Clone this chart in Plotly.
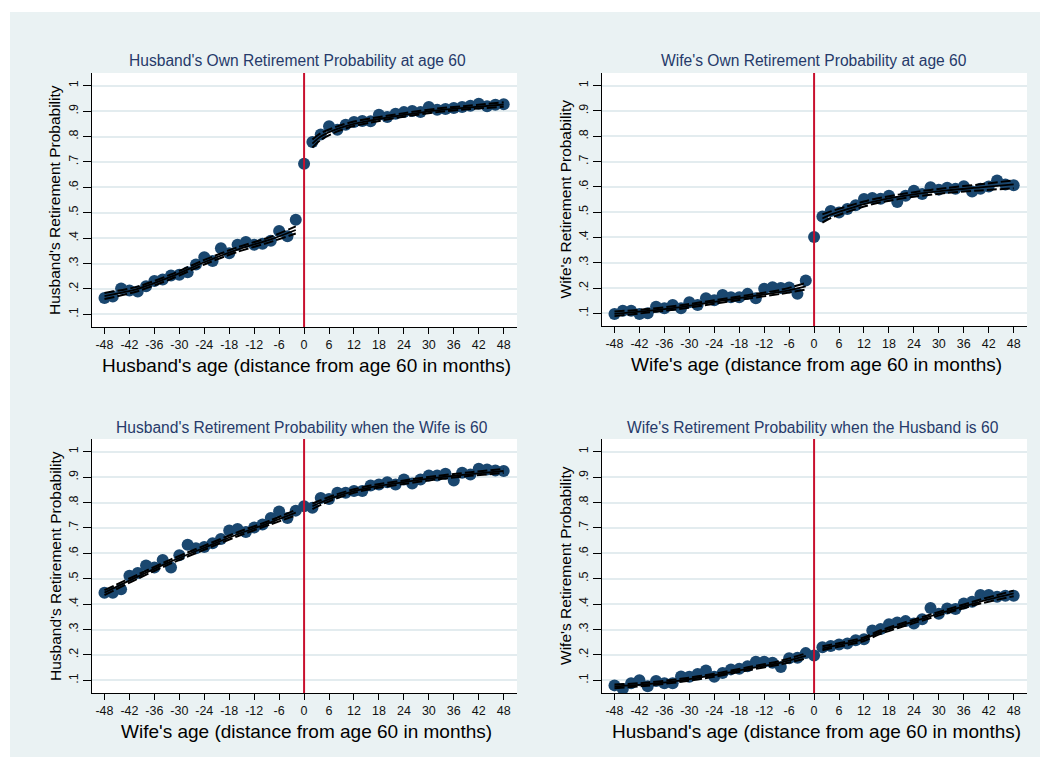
import plotly.graph_objects as go

# ---------------- data ----------------
months = list(range(-48, 49, 2))
x_ticks = [-48, -42, -36, -30, -24, -18, -12, -6, 0, 6, 12, 18, 24, 30, 36, 42, 48]
x_ticklabels = [str(v) for v in x_ticks]
y_ticks = [0.1, 0.2, 0.3, 0.4, 0.5, 0.6, 0.7, 0.8, 0.9, 1.0]
y_ticklabels = [".1", ".2", ".3", ".4", ".5", ".6", ".7", ".8", ".9", "1"]

titles = [
    "Husband's Own Retirement Probability at age 60",
    "Wife's Own Retirement Probability at age 60",
    "Husband's Retirement Probability when the Wife is 60",
    "Wife's Retirement Probability when the Husband is 60",
]
x_titles = [
    "Husband's age (distance from age 60 in months)",
    "Wife's age (distance from age 60 in months)",
    "Wife's age (distance from age 60 in months)",
    "Husband's age (distance from age 60 in months)",
]
y_titles = [
    "Husband's Retirement Probability",
    "Wife's Retirement Probability",
    "Husband's Retirement Probability",
    "Wife's Retirement Probability",
]

husband_own = [0.164, 0.170, 0.202, 0.194, 0.190, 0.210, 0.231, 0.237, 0.253, 0.256,
               0.266, 0.296, 0.325, 0.310, 0.360, 0.340, 0.374, 0.385, 0.374, 0.378,
               0.390, 0.428, 0.407, 0.472, 0.693, 0.778, 0.808, 0.840, 0.827, 0.846,
               0.857, 0.861, 0.860, 0.886, 0.877, 0.890, 0.896, 0.900, 0.896, 0.916,
               0.905, 0.908, 0.912, 0.916, 0.921, 0.929, 0.919, 0.925, 0.927]
wife_own = [0.097, 0.110, 0.110, 0.097, 0.100, 0.126, 0.120, 0.133, 0.120, 0.144,
            0.133, 0.160, 0.152, 0.173, 0.164, 0.164, 0.177, 0.160, 0.197, 0.203,
            0.200, 0.202, 0.177, 0.230, 0.402, 0.483, 0.505, 0.499, 0.512, 0.527,
            0.552, 0.556, 0.553, 0.565, 0.540, 0.565, 0.585, 0.572, 0.598, 0.589,
            0.596, 0.592, 0.602, 0.582, 0.592, 0.601, 0.625, 0.609, 0.606]
husband_wife60 = [0.445, 0.445, 0.458, 0.512, 0.522, 0.552, 0.544, 0.574, 0.544, 0.592,
                  0.634, 0.620, 0.625, 0.640, 0.656, 0.690, 0.696, 0.684, 0.702, 0.713,
                  0.739, 0.765, 0.739, 0.768, 0.785, 0.779, 0.818, 0.814, 0.838, 0.838,
                  0.845, 0.845, 0.867, 0.871, 0.880, 0.871, 0.891, 0.875, 0.891, 0.906,
                  0.906, 0.913, 0.887, 0.917, 0.910, 0.933, 0.930, 0.926, 0.924]
wife_husband60 = [0.080, 0.066, 0.088, 0.100, 0.077, 0.097, 0.088, 0.088, 0.115, 0.114,
                  0.125, 0.139, 0.114, 0.129, 0.143, 0.145, 0.155, 0.173, 0.173, 0.169,
                  0.152, 0.187, 0.189, 0.207, 0.198, 0.230, 0.235, 0.241, 0.245, 0.258,
                  0.262, 0.296, 0.302, 0.321, 0.328, 0.333, 0.324, 0.340, 0.385, 0.362,
                  0.383, 0.381, 0.402, 0.409, 0.436, 0.436, 0.429, 0.433, 0.433]

# fitted lines with confidence bands
fit_x_left = [-48, -40, -32, -24, -16, -8, -2]
fit_x_right = [2, 4, 8, 12, 16, 24, 32, 40, 48]

p1_fit_l = [0.172, 0.200, 0.248, 0.305, 0.355, 0.395, 0.432]
p1_lo_l = [0.160, 0.191, 0.239, 0.296, 0.346, 0.385, 0.418]
p1_hi_l = [0.184, 0.209, 0.257, 0.314, 0.364, 0.405, 0.446]
p1_fit_r = [0.772, 0.800, 0.830, 0.850, 0.863, 0.885, 0.903, 0.915, 0.926]
p1_lo_r = [0.756, 0.787, 0.820, 0.841, 0.855, 0.878, 0.896, 0.908, 0.917]
p1_hi_r = [0.788, 0.813, 0.840, 0.859, 0.871, 0.892, 0.910, 0.922, 0.935]

p2_fit_l = [0.098, 0.110, 0.125, 0.145, 0.165, 0.185, 0.207]
p2_lo_l = [0.089, 0.103, 0.118, 0.138, 0.158, 0.177, 0.194]
p2_hi_l = [0.107, 0.117, 0.132, 0.152, 0.172, 0.193, 0.220]
p2_fit_r = [0.475, 0.490, 0.512, 0.532, 0.548, 0.570, 0.586, 0.598, 0.610]
p2_lo_r = [0.459, 0.477, 0.501, 0.522, 0.539, 0.561, 0.576, 0.586, 0.594]
p2_hi_r = [0.491, 0.503, 0.523, 0.542, 0.557, 0.579, 0.596, 0.610, 0.626]

p3_fit_l = [0.445, 0.508, 0.568, 0.622, 0.675, 0.722, 0.760]
p3_lo_l = [0.435, 0.500, 0.560, 0.614, 0.667, 0.714, 0.749]
p3_hi_l = [0.455, 0.516, 0.576, 0.630, 0.683, 0.730, 0.771]
p3_fit_r = [0.785, 0.800, 0.825, 0.845, 0.860, 0.880, 0.898, 0.912, 0.924]
p3_lo_r = [0.774, 0.791, 0.817, 0.838, 0.853, 0.873, 0.891, 0.905, 0.916]
p3_hi_r = [0.796, 0.809, 0.833, 0.852, 0.867, 0.887, 0.905, 0.919, 0.932]

p4_fit_l = [0.076, 0.085, 0.100, 0.120, 0.145, 0.170, 0.196]
p4_lo_l = [0.069, 0.079, 0.094, 0.114, 0.139, 0.163, 0.186]
p4_hi_l = [0.083, 0.091, 0.106, 0.126, 0.151, 0.177, 0.206]
p4_fit_r = [0.226, 0.233, 0.246, 0.262, 0.290, 0.332, 0.372, 0.410, 0.442]
p4_lo_r = [0.218, 0.226, 0.239, 0.255, 0.283, 0.325, 0.365, 0.402, 0.431]
p4_hi_r = [0.234, 0.240, 0.253, 0.269, 0.297, 0.339, 0.379, 0.418, 0.453]

# ---------------- styling ----------------
OFF = 8                     # the page body adds an 8px margin
W, H = 1052 - OFF, 771 - OFF
BG = "#EAF2F3"
GRID = "#E3ECEF"
MARKER = "#1A476F"
RED = "#C8102E"
TITLE_C = "#263A6A"
FONT = "Liberation Sans, Arial, sans-serif"

def px(x):
    return (x - OFF) / W

def py(y):
    return 1 - (y - OFF) / H

# plot areas in target pixels: (left, right, top, bottom)
areas = [
    (92, 517, 73, 327),
    (602, 1027, 73, 326),
    (92, 517, 439, 693),
    (602, 1027, 439, 693),
]
title_pos = [(297, 60), (814, 60), (302, 427), (813, 427)]

panels = [
    (husband_own, p1_fit_l, p1_lo_l, p1_hi_l, p1_fit_r, p1_lo_r, p1_hi_r),
    (wife_own, p2_fit_l, p2_lo_l, p2_hi_l, p2_fit_r, p2_lo_r, p2_hi_r),
    (husband_wife60, p3_fit_l, p3_lo_l, p3_hi_l, p3_fit_r, p3_lo_r, p3_hi_r),
    (wife_husband60, p4_fit_l, p4_lo_l, p4_hi_l, p4_fit_r, p4_lo_r, p4_hi_r),
]

fig = go.Figure()
annotations = []
shapes = []

for i, (pts, fl, ll, hl, fr, lr, hr) in enumerate(panels):
    n = i + 1
    xa = "x" if n == 1 else f"x{n}"
    ya = "y" if n == 1 else f"y{n}"
    fig.add_trace(go.Scatter(
        x=months, y=pts, xaxis=xa, yaxis=ya, mode="markers",
        marker=dict(color=MARKER, size=12, line=dict(width=0)),
        showlegend=False, hoverinfo="skip"))
    for xs, lo, fit, hi in ((fit_x_left, ll, fl, hl), (fit_x_right, lr, fr, hr)):
        for ys, dash, wd in ((lo, "10px,3px", 2.0), (hi, "10px,3px", 2.0), (fit, "solid", 1.8)):
            fig.add_trace(go.Scatter(
                x=xs, y=ys, xaxis=xa, yaxis=ya, mode="lines",
                line=dict(color="black", width=wd, dash=dash, shape="spline", smoothing=0.8),
                showlegend=False, hoverinfo="skip"))
    # red vertical line at 0
    fig.add_trace(go.Scatter(
        x=[0, 0], y=[0.05, 1.05], xaxis=xa, yaxis=ya, mode="lines",
        line=dict(color=RED, width=2), showlegend=False, hoverinfo="skip"))

    l, r, t, b = areas[i]
    axis_common = dict(showline=True, linecolor="black", linewidth=1.3,
                       ticks="outside", tickcolor="black", tickwidth=1.2,
                       zeroline=False, mirror=False)
    fig.update_layout({
        ("xaxis" if n == 1 else f"xaxis{n}"): dict(
            domain=[px(l), px(r)], anchor=ya, range=[-51.0, 51.2],
            tickmode="array", tickvals=x_ticks, ticktext=x_ticklabels,
            ticklen=6, showgrid=False,
            tickfont=dict(family=FONT, size=12.5, color="#111111"), **axis_common),
        ("yaxis" if n == 1 else f"yaxis{n}"): dict(
            domain=[py(b), py(t)], anchor=xa, range=[0.05, 1.05],
            tickmode="array", tickvals=y_ticks, ticktext=y_ticklabels,
            ticklen=8, tickangle=-90, showgrid=True, gridcolor=GRID, gridwidth=2,
            tickfont=dict(family=FONT, size=12.5, color="#111111"), **axis_common),
    })
    # white plot area
    shapes.append(dict(type="rect", xref="paper", yref="paper",
                       x0=px(l), x1=px(r), y0=py(b), y1=py(t),
                       fillcolor="white", line=dict(width=0), layer="below"))
    # titles
    tx, ty = title_pos[i]
    annotations.append(dict(text=titles[i], x=px(tx), y=py(ty), xref="paper", yref="paper",
                            showarrow=False, xanchor="center", yanchor="middle",
                            font=dict(family=FONT, size=15.6, color=TITLE_C)))
    annotations.append(dict(text=x_titles[i], x=px((l + r) / 2 + 2), y=py(b + 38),
                            xref="paper", yref="paper", showarrow=False,
                            xanchor="center", yanchor="middle",
                            font=dict(family=FONT, size=19, color="black")))
    annotations.append(dict(text=y_titles[i], x=px(l - 37), y=py((t + b) / 2),
                            xref="paper", yref="paper", showarrow=False, textangle=-90,
                            xanchor="center", yanchor="middle",
                            font=dict(family=FONT, size=15.5, color="black")))

# outer gray region (drawn first)
shapes.insert(0, dict(type="rect", xref="paper", yref="paper",
                      x0=px(10), x1=px(1040), y0=py(757), y1=py(12),
                      fillcolor=BG, line=dict(width=0), layer="below"))

fig.update_layout(
    width=W, height=H, margin=dict(l=0, r=0, t=0, b=0),
    paper_bgcolor="white", plot_bgcolor="rgba(0,0,0,0)",
    annotations=annotations, shapes=shapes,
    font=dict(family=FONT),
)

fig.write_html("out.html")
